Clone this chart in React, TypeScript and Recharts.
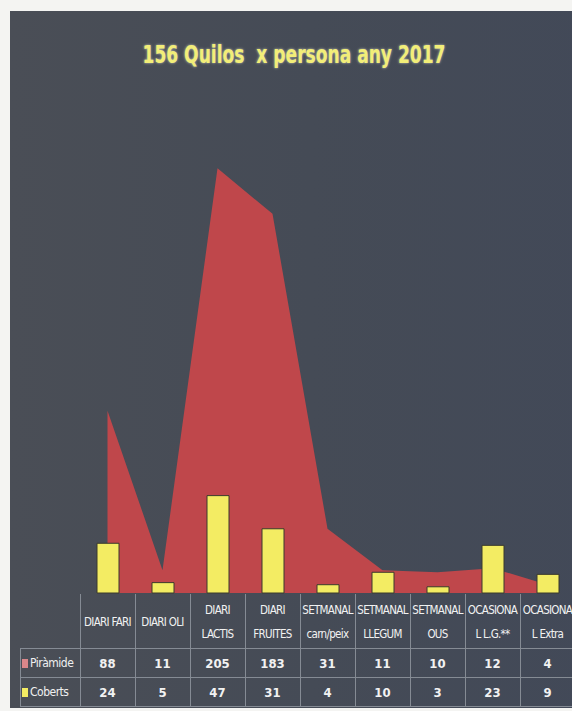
import React from 'react';
import { ComposedChart, Area, Bar, XAxis, YAxis } from 'recharts';

const title = '156 Quilos  x persona any 2017';
const categories = [
  'DIARI FARI', 'DIARI OLI', 'DIARI LACTIS', 'DIARI FRUITES', 'SETMANAL carn/peix',
  'SETMANAL LLEGUM', 'SETMANAL OUS', 'OCASIONAL L.G.**', 'OCASIONAL Extra',
];
const headerLine1 = ['DIARI FARI', 'DIARI OLI', 'DIARI', 'DIARI', 'SETMANAL', 'SETMANAL', 'SETMANAL', 'OCASIONA', 'OCASIONA'];
const headerLine2 = ['', '', 'LACTIS', 'FRUITES', 'carn/peix', 'LLEGUM', 'OUS', 'L L.G.**', 'L Extra'];
const seriesNames = ['Piràmide', 'Coberts'];
const piramide = [88, 11, 205, 183, 31, 11, 10, 12, 4];
const coberts = [24, 5, 47, 31, 4, 10, 3, 23, 9];

const data = categories.map((c, i) => ({ name: c, piramide: piramide[i], coberts: coberts[i] }));

const PLOT_LEFT = 80;
const COL = 55;
const BASE_Y = 593;
const ROW1 = 648;
const ROW2 = 677;
const ROW_END = 706;
const LEG_LEFT = 20;

const AREA_COLOR = '#bf474b';
const BAR_COLOR = '#f3ec63';
const LINE = '#858b94';
const FONT = "'Liberation Sans Narrow', 'DejaVu Sans Condensed', 'Roboto', sans-serif";

export default function App() {
  const rows = [piramide, coberts];
  const swatches = ['#d9878a', BAR_COLOR];
  return (
    <div style={{ position: 'absolute', left: 0, top: 0, width: 572, height: 711, overflow: 'hidden', background: '#f4f4f2' }}>
      <div style={{ position: 'absolute', left: 10, top: 11, width: 600, height: 697, background: 'linear-gradient(90deg, #4a4e56 0%, #454b56 50%, #424958 100%)' }} />
      <div style={{ position: 'absolute', left: 0, top: 0 }}>
        <ComposedChart width={576} height={711} data={data} margin={{ top: 75, right: 1, left: PLOT_LEFT, bottom: 711 - BASE_Y }}>
          <XAxis dataKey="name" tick={false} tickLine={false} height={0} axisLine={{ stroke: '#e8e8e8', strokeWidth: 2 }} />
          <YAxis hide domain={[0, 250]} />
          <Area type="linear" dataKey="piramide" name={seriesNames[0]} stroke="none" fill={AREA_COLOR} fillOpacity={1} isAnimationActive={false} />
          <Bar dataKey="coberts" name={seriesNames[1]} barSize={22} fill={BAR_COLOR} stroke="#3a3a2c" strokeWidth={1} isAnimationActive={false} />
        </ComposedChart>
      </div>
      <div style={{ position: 'absolute', left: 94, width: 400, top: 40, textAlign: 'center', fontFamily: FONT, fontWeight: 'bold', fontSize: 25, color: '#f2ee78', textShadow: '0 0 3px rgba(255,255,230,0.7)', whiteSpace: 'pre', transform: 'scaleX(0.76)', transformOrigin: '200px 0' }}>
        {title}
      </div>
      {/* table grid lines */}
      <div style={{ position: 'absolute', left: LEG_LEFT, top: ROW1, width: 600, height: 0, borderTop: `1px solid ${LINE}` }} />
      <div style={{ position: 'absolute', left: LEG_LEFT, top: ROW2, width: 600, height: 0, borderTop: `1px solid ${LINE}` }} />
      <div style={{ position: 'absolute', left: LEG_LEFT, top: ROW_END, width: 600, height: 0, borderTop: `1px solid ${LINE}` }} />
      <div style={{ position: 'absolute', left: LEG_LEFT, top: ROW1, width: 0, height: ROW_END - ROW1, borderLeft: `1px solid ${LINE}` }} />
      {categories.map((_, i) => (
        <div key={'v' + i} style={{ position: 'absolute', left: PLOT_LEFT + COL * i, top: BASE_Y + 1, width: 0, height: ROW_END - BASE_Y - 1, borderLeft: `1px solid ${LINE}` }} />
      ))}
      {categories.map((c, i) => (
        <div key={'h' + i} style={{ position: 'absolute', left: PLOT_LEFT + COL * i, top: BASE_Y + 2, width: COL, height: ROW1 - BASE_Y - 2, display: 'flex', flexDirection: 'column', justifyContent: 'center', alignItems: 'center', fontFamily: FONT, fontSize: 11.5, color: '#f2f2f2', lineHeight: '24px', whiteSpace: 'nowrap', letterSpacing: -0.7 }}>
          <div>{headerLine1[i]}</div>
          {headerLine2[i] ? <div>{headerLine2[i]}</div> : null}
        </div>
      ))}
      {rows.map((vals, r) => (
        <React.Fragment key={'r' + r}>
          <div style={{ position: 'absolute', left: LEG_LEFT + 2, top: (r === 0 ? ROW1 : ROW2) + 1, width: PLOT_LEFT - LEG_LEFT - 2, height: 28, display: 'flex', alignItems: 'center', fontFamily: FONT, fontSize: 12, color: '#f0f0f0', letterSpacing: -0.5 }}>
            <span style={{ display: 'inline-block', width: 6, height: 9, background: swatches[r], marginRight: 2 }} />
            {seriesNames[r]}
          </div>
          {vals.map((v, i) => (
            <div key={i} style={{ position: 'absolute', left: PLOT_LEFT + COL * i, top: (r === 0 ? ROW1 : ROW2) + 1, width: COL, height: 28, display: 'flex', alignItems: 'center', justifyContent: 'center', fontFamily: FONT, fontWeight: 'bold', fontSize: 13, color: '#f2f2f2' }}>
              {v}
            </div>
          ))}
        </React.Fragment>
      ))}
    </div>
  );
}
